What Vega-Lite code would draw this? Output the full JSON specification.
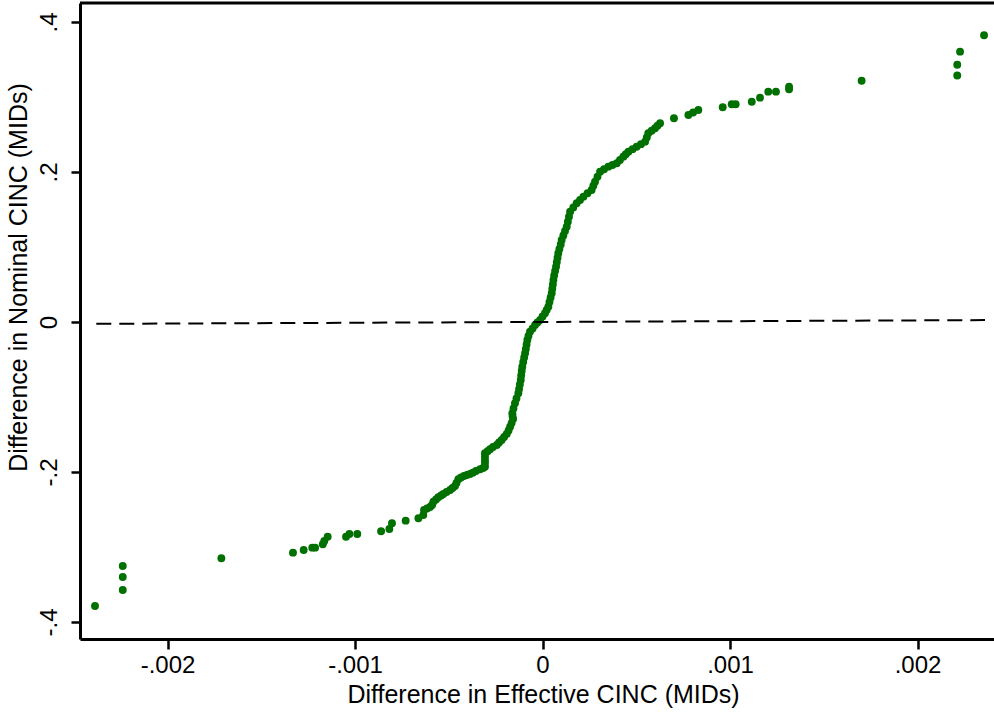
{
"$schema": "https://vega.github.io/schema/vega-lite/v6.json",
"width": 914, "height": 636,
"autosize": "none",
"padding": {"left": 80, "top": 3, "right": 0, "bottom": 73},
"background": "white",
"config": {"view": {"stroke": null}, "font": "Liberation Sans"},
"datasets": {
"pts": [
{"x":-0.002387,"y":-0.3787},{"x":-0.002239,"y":-0.3253},{"x":-0.002239,"y":-0.3400},{"x":-0.002239,"y":-0.3573},
{"x":-0.001713,"y":-0.3151},{"x":-0.001331,"y":-0.3076},{"x":-0.001274,"y":-0.3040},{"x":-0.001228,"y":-0.3009},
{"x":-0.001213,"y":-0.3009},{"x":-0.001172,"y":-0.2964},{"x":-0.001164,"y":-0.2920},{"x":-0.001146,"y":-0.2863},
{"x":-0.001048,"y":-0.2863},{"x":-0.001030,"y":-0.2827},{"x":-0.000988,"y":-0.2827},{"x":-0.000861,"y":-0.2791},
{"x":-0.000817,"y":-0.2760},{"x":-0.000803,"y":-0.2684},{"x":-0.000730,"y":-0.2649},{"x":-0.000662,"y":-0.2617},
{"x":-0.000636,"y":-0.2573},
{"x":-0.000632,"y":-0.2507},{"x":-0.000616,"y":-0.2487},{"x":-0.000600,"y":-0.2467},{"x":-0.000589,"y":-0.2440},
{"x":-0.000582,"y":-0.2396},{"x":-0.000568,"y":-0.2367},{"x":-0.000556,"y":-0.2337},{"x":-0.000541,"y":-0.2313},
{"x":-0.000529,"y":-0.2293},{"x":-0.000512,"y":-0.2267},{"x":-0.000493,"y":-0.2240},{"x":-0.000480,"y":-0.2213},
{"x":-0.000467,"y":-0.2187},{"x":-0.000459,"y":-0.2147},{"x":-0.000449,"y":-0.2097},{"x":-0.000435,"y":-0.2073},
{"x":-0.000419,"y":-0.2053},{"x":-0.000403,"y":-0.2040},{"x":-0.000387,"y":-0.2027},{"x":-0.000372,"y":-0.2009},
{"x":-0.000355,"y":-0.1987},{"x":-0.000333,"y":-0.1964},{"x":-0.000317,"y":-0.1947},{"x":-0.000307,"y":-0.1929},
{"x":-0.000307,"y":-0.1880},{"x":-0.000307,"y":-0.1840},{"x":-0.000307,"y":-0.1793},{"x":-0.000307,"y":-0.1751},
{"x":-0.000293,"y":-0.1724},{"x":-0.000280,"y":-0.1697},{"x":-0.000264,"y":-0.1667},{"x":-0.000244,"y":-0.1640},
{"x":-0.000232,"y":-0.1607},{"x":-0.000218,"y":-0.1573},{"x":-0.000205,"y":-0.1533},{"x":-0.000191,"y":-0.1493},
{"x":-0.000181,"y":-0.1447},{"x":-0.000173,"y":-0.1396},{"x":-0.000165,"y":-0.1347},{"x":-0.000157,"y":-0.1293},
{"x":-0.000160,"y":-0.1253},{"x":-0.000161,"y":-0.1217},{"x":-0.000155,"y":-0.1153},{"x":-0.000147,"y":-0.1084},
{"x":-0.000139,"y":-0.1020},{"x":-0.000129,"y":-0.0951},{"x":-0.000125,"y":-0.0893},{"x":-0.000121,"y":-0.0833},
{"x":-0.000116,"y":-0.0773},{"x":-0.000114,"y":-0.0713},{"x":-0.000111,"y":-0.0653},{"x":-0.000108,"y":-0.0596},
{"x":-0.000103,"y":-0.0533},{"x":-0.000098,"y":-0.0473},{"x":-0.000093,"y":-0.0417},{"x":-0.000089,"y":-0.0360},
{"x":-0.000085,"y":-0.0300},{"x":-0.000081,"y":-0.0240},{"x":-0.000075,"y":-0.0187},{"x":-0.000067,"y":-0.0129},
{"x":-0.000053,"y":-0.0087},{"x":-0.000040,"y":-0.0040},{"x":-0.000027,"y":-0.0007},{"x":-0.000013,"y":0.0027},
{"x":0.000000,"y":0.0073},{"x":0.000013,"y":0.0116},{"x":0.000022,"y":0.0160},{"x":0.000031,"y":0.0204},
{"x":0.000037,"y":0.0267},{"x":0.000043,"y":0.0327},{"x":0.000049,"y":0.0383},{"x":0.000052,"y":0.0443},
{"x":0.000055,"y":0.0501},{"x":0.000058,"y":0.0560},{"x":0.000062,"y":0.0620},{"x":0.000067,"y":0.0680},
{"x":0.000072,"y":0.0737},{"x":0.000076,"y":0.0797},{"x":0.000080,"y":0.0856},{"x":0.000084,"y":0.0916},
{"x":0.000090,"y":0.0973},{"x":0.000097,"y":0.1033},{"x":0.000102,"y":0.1093},{"x":0.000111,"y":0.1153},
{"x":0.000120,"y":0.1213},{"x":0.000129,"y":0.1271},{"x":0.000135,"y":0.1337},{"x":0.000141,"y":0.1404},
{"x":0.000147,"y":0.1471},{"x":0.000164,"y":0.1527},{"x":0.000182,"y":0.1583},{"x":0.000200,"y":0.1627},
{"x":0.000218,"y":0.1671},{"x":0.000240,"y":0.1716},{"x":0.000262,"y":0.1760},{"x":0.000271,"y":0.1816},
{"x":0.000280,"y":0.1871},{"x":0.000293,"y":0.1937},{"x":0.000307,"y":0.2004},{"x":0.000328,"y":0.2037},
{"x":0.000351,"y":0.2071},{"x":0.000373,"y":0.2093},{"x":0.000396,"y":0.2116},{"x":0.000413,"y":0.2160},
{"x":0.000431,"y":0.2204},{"x":0.000444,"y":0.2237},{"x":0.000458,"y":0.2271},{"x":0.000480,"y":0.2304},
{"x":0.000502,"y":0.2337},{"x":0.000525,"y":0.2371},{"x":0.000547,"y":0.2404},{"x":0.000556,"y":0.2460},
{"x":0.000564,"y":0.2516},{"x":0.000582,"y":0.2549},{"x":0.000600,"y":0.2583},{"x":0.000613,"y":0.2616},
{"x":0.000627,"y":0.2649},{"x":0.000701,"y":0.2716},{"x":0.000778,"y":0.2760},{"x":0.000803,"y":0.2793},
{"x":0.000831,"y":0.2827},
{"x":0.000961,"y":0.2863},{"x":0.001009,"y":0.2903},{"x":0.001030,"y":0.2903},{"x":0.001116,"y":0.2937},
{"x":0.001160,"y":0.2991},{"x":0.001204,"y":0.3071},{"x":0.001245,"y":0.3071},{"x":0.001315,"y":0.3137},
{"x":0.001315,"y":0.3103},{"x":0.001702,"y":0.3217},{"x":0.002212,"y":0.3287},{"x":0.002212,"y":0.3429},
{"x":0.002227,"y":0.3604},{"x":0.002355,"y":0.3823}
],
"fit": [{"x":-0.00238,"y":-0.0025},{"x":0.00236,"y":0.0025}],
"top": [{"y":0.4253}]
},
"layer": [
{
"data": {"name": "pts"},
"mark": {"type": "circle", "size": 62, "opacity": 1, "color": "#007000"},
"encoding": {
"x": {"field": "x", "type": "quantitative",
 "scale": {"domain": [-0.002467, 0.002408], "nice": false, "zero": false},
 "axis": {"values": [-0.002, -0.001, 0, 0.001, 0.002],
  "labelExpr": "datum.value == 0 ? '0' : (datum.value < 0 ? '-' : '') + '.' + format(abs(datum.value)*1000, '03d')",
  "title": "Difference in Effective CINC (MIDs)",
  "grid": false, "domainColor": "black", "domainWidth": 3, "tickColor": "black", "tickWidth": 2.5, "tickSize": 10,
  "labelFontSize": 24, "labelColor": "black", "labelPadding": 4,
  "titleFontSize": 25, "titleFontWeight": "normal", "titleColor": "black",
  "titleX": 463, "titleY": 63, "titleBaseline": "alphabetic", "titleAnchor": "middle"}},
"y": {"field": "y", "type": "quantitative",
 "scale": {"domain": [-0.4227, 0.4253], "nice": false, "zero": false},
 "axis": {"values": [-0.4, -0.2, 0, 0.2, 0.4],
  "labelExpr": "datum.value == 0 ? '0' : (datum.value < 0 ? '-' : '') + '.' + format(abs(datum.value)*10, 'd')",
  "title": "Difference in Nominal CINC (MIDs)",
  "grid": false, "domainColor": "black", "domainWidth": 3, "tickColor": "black", "tickWidth": 2.5, "tickSize": 9,
  "labelFontSize": 24, "labelColor": "black", "labelAngle": -90, "labelAlign": "center", "labelBaseline": "bottom", "labelPadding": 10,
  "titleFontSize": 25, "titleFontWeight": "normal", "titleColor": "black",
  "titleAngle": -90, "titleX": -62, "titleY": 274, "titleBaseline": "middle", "titleAlign": "center"}}
}
},
{
"data": {"name": "fit"},
"mark": {"type": "line", "color": "black", "strokeDash": [15, 8], "strokeWidth": 2},
"encoding": {
"x": {"field": "x", "type": "quantitative"},
"y": {"field": "y", "type": "quantitative"}
}
},
{
"data": {"name": "top"},
"mark": {"type": "rule", "color": "black", "strokeWidth": 3},
"encoding": {"y": {"field": "y", "type": "quantitative"}}
}
]
}
